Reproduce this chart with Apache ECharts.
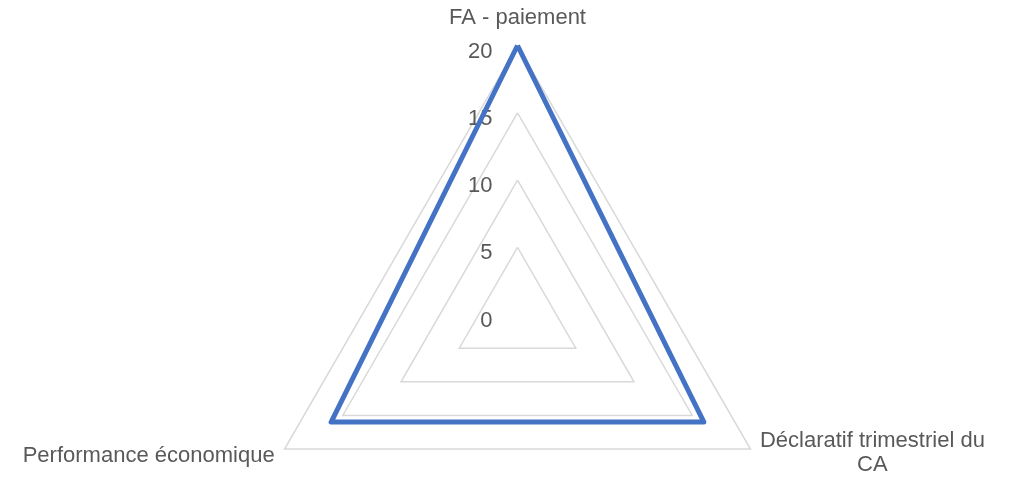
<!DOCTYPE html>
<html>
<head>
<meta charset="utf-8">
<script src="https://cdn.jsdelivr.net/npm/echarts@6/dist/echarts.min.js"></script>
<style>
  html, body { margin: 0; padding: 0; background: #fff; }
  #chart { width: 1009px; height: 478px; }
</style>
</head>
<body>
<div id="chart"></div>
<script>
// indicators in ECharts order (counter-clockwise from top)
const indicators = ['FA - paiement', 'Performance économique', 'Déclaratif trimestriel du\nCA']
const values = [20, 16, 16]
const axisMin = 0
const axisMax = 20
const splits = 4

const chart = echarts.init(document.getElementById('chart'))

const nameStyle = { lineHeight: 24, fontSize: 22, color: '#595959', fontFamily: 'Liberation Sans' }
const tags = ['t', 'l', 'r']

chart.setOption({
  animation: false,
  radar: {
    center: [517.5, 314.5],
    radius: 269,
    startAngle: 90,
    shape: 'polygon',
    splitNumber: splits,
    axisName: {
      color: '#595959',
      fontFamily: 'Liberation Sans',
      fontSize: 22,
      formatter: (v) => {
        const tag = tags[indicators.indexOf(v)]
        const txt = v.split('\n').map(l => '{' + tag + '|' + l + '}').join('\n')
        return tag === 't' ? txt + '\n{s| }' : txt
      },
      rich: {
        t: nameStyle,
        s: { fontSize: 2, lineHeight: 8 },
        l: Object.assign({}, nameStyle, { padding: [5, 3, 0, 0] }),
        r: Object.assign({}, nameStyle, { width: 230, align: 'center' })
      }
    },
    nameGap: 8,
    axisLine: { show: false },
    axisTick: { show: false },
    splitArea: { show: false },
    splitLine: { lineStyle: { color: '#d9d9d9', width: 1.5 } },
    indicator: indicators.map((n, i) => ({
      name: n, min: axisMin, max: axisMax,
      axisLabel: {
        show: i === 0, color: '#595959', margin: 25, showMinLabel: true,
        formatter: v => '{n|' + v + '}',
        rich: { n: { fontSize: 22, color: '#595959', fontFamily: 'Liberation Sans', padding: [12, 0, 0, 0] } }
      }
    }))
  },
  series: [{
    type: 'radar',
    symbol: 'none',
    lineStyle: { color: '#4472c4', width: 5, join: 'round' },
    data: [{ value: values }]
  }]
})
</script>
</body>
</html>
